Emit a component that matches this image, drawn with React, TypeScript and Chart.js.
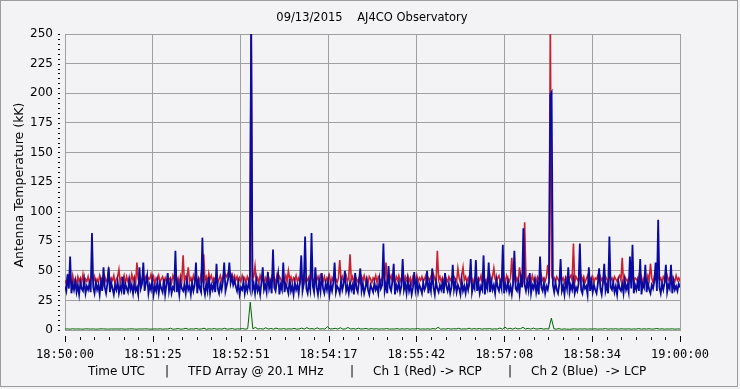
import React, { useEffect, useRef } from "react";
import { Chart, registerables } from "chart.js";

Chart.register(...registerables);

const chartTitle = "09/13/2015    AJ4CO Observatory";
const yAxisTitle = "Antenna Temperature (kK)";
const xAxisTitleParts = ["Time UTC", "|", "TFD Array @ 20.1 MHz", "|", "Ch 1 (Red) -> RCP", "|", "Ch 2 (Blue)  -> LCP"];
const xTickLabels = ["18:50:00", "18:51:25", "18:52:51", "18:54:17", "18:55:42", "18:57:08", "18:58:34", "19:00:00"];
const durationSeconds = 600;
const yMin = 0;
const yMax = 250;
const yStep = 25;

// Ch 2 (Blue) -> LCP
const ch2Blue = [
  37, 33, 47, 35, 62, 31, 39, 34, 41, 32, 38, 30, 40, 35, 33, 42, 31, 37, 34, 39,
  32, 82, 36, 31, 40, 34, 38, 30, 41, 33, 53, 36, 31, 39, 53, 32, 40, 35, 30, 38,
  34, 41, 31, 37, 33, 45, 30, 39, 35, 32, 42, 34, 38, 31, 40, 33, 36, 30, 53, 35,
  39, 57, 33, 40, 46, 31, 38, 34, 42, 30, 37, 33, 41, 31, 39, 35, 32, 43, 30, 38,
  48, 33, 40, 31, 36, 34, 67, 32, 39, 30, 41, 35, 33, 38, 31, 42, 34, 37, 30, 40,
  33, 38, 57, 31, 41, 35, 32, 78, 36, 30, 39, 33, 45, 31, 38, 34, 40, 32, 56, 35,
  31, 39, 34, 41, 57, 33, 38, 43, 57, 40, 45, 38, 42, 37, 33, 40, 30, 36, 34, 41,
  31, 38, 33, 40, 35, 260, 34, 39, 31, 42, 33, 37, 30, 40, 53, 34, 38, 32, 49, 35,
  40, 31, 68, 36, 33, 41, 48, 30, 38, 34, 57, 32, 39, 35, 31, 43, 33, 37, 30, 40,
  34, 38, 31, 41, 63, 33, 39, 79, 35, 31, 40, 34, 82, 37, 32, 53, 36, 30, 41, 33,
  48, 35, 31, 39, 34, 42, 30, 38, 33, 40, 57, 32, 37, 35, 31, 41, 34, 39, 50, 33,
  37, 31, 40, 34, 38, 30, 48, 35, 32, 41, 52, 33, 39, 31, 36, 42, 34, 30, 38, 35,
  32, 40, 34, 37, 31, 43, 35, 38, 73, 33, 39, 31, 54, 36, 33, 41, 56, 30, 38, 34,
  40, 32, 37, 60, 34, 39, 31, 42, 33, 38, 30, 36, 49, 34, 41, 32, 38, 35, 31, 40,
  34, 37, 50, 31, 39, 33, 52, 36, 30, 41, 35, 32, 38, 34, 40, 31, 48, 37, 33, 39,
  31, 36, 55, 34, 40, 32, 38, 35, 30, 42, 33, 37, 31, 39, 34, 41, 60, 32, 38, 35,
  59, 33, 40, 31, 37, 34, 63, 30, 39, 35, 57, 32, 41, 34, 38, 31, 43, 36, 33, 40,
  35, 72, 31, 38, 34, 41, 32, 37, 30, 39, 67, 35, 33, 40, 31, 44, 36, 86, 38, 33,
  41, 34, 48, 31, 38, 35, 42, 32, 39, 30, 62, 36, 33, 40, 31, 37, 34, 41, 199, 201,
  38, 32, 40, 34, 31, 39, 60, 33, 37, 30, 41, 35, 53, 32, 38, 34, 42, 31, 36, 33,
  39, 73, 34, 31, 40, 35, 37, 30, 53, 33, 41, 32, 38, 34, 31, 39, 52, 35, 30, 40,
  56, 33, 38, 31, 79, 36, 34, 40, 32, 37, 30, 41, 35, 33, 39, 31, 42, 34, 38, 32,
  62, 35, 72, 31, 38, 34, 41, 33, 60, 30, 39, 36, 55, 32, 40, 34, 31, 38, 35, 41,
  57, 33, 93, 36, 31, 39, 34, 40, 55, 32, 38, 35, 55, 31, 41, 34, 37, 33, 39, 36,
];

// Ch 1 (Red) -> RCP
const ch1Red = [
  42, 39, 45, 41, 44, 38, 46, 40, 43, 39, 45, 41, 44, 40, 47, 39, 43, 41, 45, 40,
  44, 46, 41, 45, 39, 43, 40, 46, 42, 44, 39, 45, 41, 43, 50, 40, 44, 42, 46, 39,
  43, 45, 51, 40, 44, 42, 46, 39, 45, 41, 44, 40, 47, 42, 45, 39, 57, 43, 40, 44,
  41, 46, 42, 45, 40, 44, 43, 47, 41, 45, 39, 44, 42, 46, 40, 43, 45, 41, 44, 40,
  45, 42, 44, 40, 46, 43, 45, 41, 44, 39, 46, 42, 63, 40, 45, 43, 53, 41, 44, 40,
  46, 42, 45, 40, 44, 41, 47, 43, 64, 42, 45, 40, 48, 43, 46, 41, 44, 42, 45, 40,
  43, 46, 41, 45, 44, 47, 45, 48, 46, 44, 47, 43, 46, 42, 45, 40, 44, 41, 46, 42,
  44, 40, 45, 42, 46, 262, 43, 45, 54, 41, 44, 40, 46, 42, 45, 39, 44, 41, 47, 43,
  40, 45, 42, 44, 39, 46, 41, 45, 43, 40, 44, 42, 46, 41, 50, 43, 45, 40, 44, 42,
  46, 41, 44, 40, 45, 43, 47, 41, 44, 42, 45, 40, 46, 43, 41, 44, 42, 45, 40, 46,
  43, 41, 45, 40, 44, 42, 46, 39, 44, 41, 45, 43, 40, 44, 59, 42, 45, 40, 43, 46,
  41, 44, 64, 42, 45, 40, 46, 43, 41, 44, 40, 45, 42, 46, 41, 44, 39, 45, 43, 40,
  44, 42, 46, 40, 45, 43, 41, 44, 47, 42, 57, 40, 45, 43, 46, 41, 44, 40, 45, 42,
  46, 41, 44, 43, 40, 45, 42, 46, 41, 44, 39, 45, 43, 41, 46, 40, 44, 42, 45, 41,
  43, 46, 40, 44, 42, 45, 41, 47, 43, 40, 67, 42, 45, 41, 44, 40, 46, 43, 41, 45,
  42, 44, 40, 45, 43, 41, 52, 44, 40, 46, 53, 42, 45, 41, 44, 39, 46, 43, 40, 44,
  45, 41, 44, 42, 46, 40, 45, 43, 41, 44, 42, 46, 40, 45, 52, 43, 41, 44, 46, 40,
  44, 42, 45, 40, 46, 43, 41, 44, 61, 42, 45, 40, 44, 41, 53, 43, 46, 42, 91, 44,
  41, 45, 43, 40, 46, 42, 44, 41, 45, 43, 40, 46, 42, 44, 41, 45, 55, 43, 262, 46,
  42, 44, 40, 45, 43, 41, 46, 42, 44, 40, 45, 43, 41, 44, 46, 42, 73, 40, 45, 43,
  41, 44, 46, 42, 45, 40, 43, 46, 41, 44, 42, 45, 40, 44, 43, 46, 41, 45, 42, 44,
  40, 45, 43, 41, 46, 42, 44, 40, 45, 43, 41, 44, 46, 42, 61, 40, 45, 43, 41, 44,
  46, 42, 45, 40, 44, 43, 41, 46, 42, 45, 40, 44, 43, 41, 46, 42, 56, 44, 40, 45,
  43, 41, 46, 42, 44, 40, 45, 43, 41, 46, 42, 44, 40, 45, 43, 41, 46, 42, 44, 41,
];

// Third trace (Green), near zero
const ch3Green = [
  0.8, 0.9, 0.7, 1.0, 0.8, 0.9, 0.8, 0.7, 1.0, 0.9, 0.8, 0.9, 0.7, 0.8, 1.0, 0.9, 0.8, 0.7, 0.9, 0.8,
  0.9, 0.8, 1.0, 0.7, 0.8, 0.9, 1.0, 0.8, 0.7, 0.9, 0.8, 1.0, 0.9, 0.7, 0.8, 0.9, 0.8, 1.0, 0.7, 0.9,
  0.8, 1.5, 0.6, 0.9, 1.2, 0.7, 0.9, 1.4, 0.6, 1.0, 0.8, 1.3, 0.7, 0.9, 1.5, 0.6, 1.0, 0.8, 1.2, 0.7,
  1.0, 0.8, 1.4, 0.7, 0.9, 1.2, 0.6, 1.0, 0.8, 1.3, 0.7, 1.1, 23.5, 1.0, 2.2, 0.8, 1.2, 0.7, 1.9, 0.8,
  1.3, 0.7, 1.6, 0.9, 0.8, 1.2, 0.7, 1.0, 0.8, 1.4, 0.7, 0.9, 1.6, 0.8, 2.0, 0.9, 1.2, 0.7, 1.8, 0.8,
  1.1, 0.7, 2.8, 0.9, 1.0, 1.4, 0.8, 1.9, 0.7, 1.0, 2.1, 0.8, 1.2, 0.7, 1.5, 0.8, 1.0, 1.3, 0.7, 1.2,
  0.8, 1.1, 0.7, 1.0, 0.8, 1.3, 0.7, 0.9, 0.8, 1.2, 0.7, 1.0, 0.8, 1.1, 0.7, 1.0, 0.8, 1.3, 0.7, 0.9,
  0.8, 1.0, 0.7, 1.2, 0.8, 2.3, 0.7, 1.0, 0.8, 1.3, 0.7, 1.1, 0.9, 1.4, 0.7, 1.0, 0.8, 1.5, 0.7, 1.2,
  0.8, 1.3, 0.7, 1.1, 0.9, 1.2, 0.7, 1.0, 0.8, 1.6, 0.7, 2.4, 0.8, 1.5, 0.7, 1.7, 0.9, 1.2, 2.2, 0.8,
  1.4, 0.7, 1.6, 0.8, 1.0, 1.3, 0.7, 1.1, 0.8, 10.0, 1.0, 0.7, 1.2, 0.6, 0.9, 0.7, 0.6, 0.8, 1.0, 0.7,
  0.9, 0.8, 1.0, 0.7, 0.9, 0.8, 1.0, 0.7, 0.9, 0.8, 1.2, 0.7, 1.0, 0.8, 1.1, 0.7, 1.0, 0.9, 0.8, 1.0,
  0.7, 0.9, 0.8, 1.2, 0.7, 1.0, 0.8, 1.1, 0.7, 0.9, 1.3, 0.8, 1.0, 0.7, 0.9, 0.8, 1.0, 0.7, 0.9, 0.8,
];

const SANS = '"DejaVu Sans", Verdana, sans-serif';
const MONO = '"DejaVu Sans Mono", monospace';
const BG = "#f3f3f5";
const GRID = "#a0a0a0";

function toPoints(values: number[]) {
  const n = values.length;
  return values.map((v, i) => ({ x: (i * durationSeconds) / (n - 1), y: v }));
}

const decorPlugin = {
  id: "decor",
  beforeDraw(chart: any) {
    const { ctx, width, height } = chart;
    ctx.save();
    ctx.fillStyle = BG;
    ctx.fillRect(0, 0, width, height);
    ctx.strokeStyle = "#9c9c9c";
    ctx.lineWidth = 1;
    ctx.strokeRect(0.5, 0.5, width - 3, height - 3);
    ctx.restore();
  },
  afterDraw(chart: any) {
    const { ctx, chartArea } = chart;
    const xs = chart.scales.x;
    const ys = chart.scales.y;
    ctx.save();
    ctx.fillStyle = "#000";
    // y minor/major tick dashes
    const ySub = 6;
    for (let k = 0; k <= ((yMax - yMin) / yStep) * ySub; k++) {
      const v = yMin + (k * yStep) / ySub;
      const py = Math.round(ys.getPixelForValue(v));
      ctx.fillRect(58, py, 2, 1);
    }
    // x minor/major ticks
    const xSub = 6;
    const nMaj = xTickLabels.length - 1;
    for (let k = 0; k <= nMaj * xSub; k++) {
      const v = (k * durationSeconds) / (nMaj * xSub);
      const px = Math.round(xs.getPixelForValue(v));
      const isMajor = k % xSub === 0;
      ctx.fillRect(px, isMajor ? chartArea.bottom + 6 : chartArea.bottom + 7, 1, isMajor ? 6 : 3);
    }
    ctx.textBaseline = "middle";
    ctx.textAlign = "center";
    ctx.font = `11.5px ${SANS}`;
    ctx.fillText(chartTitle, 372, 18);
    // x-axis title, pieces laid out left to right
    ctx.font = `12px ${SANS}`;
    const starts = [88, 167, 188, 352, 373, 510, 531];
    xAxisTitleParts.forEach((t, i) => {
      ctx.textAlign = t === "|" ? "center" : "left";
      ctx.fillText(t, starts[i], 372);
    });
    ctx.textAlign = "center";
    ctx.font = `12.5px ${SANS}`;
    ctx.translate(20, 185);
    ctx.rotate(-Math.PI / 2);
    ctx.fillText(yAxisTitle, 0, 0);
    ctx.restore();
  },
};

export default function App() {
  const ref = useRef<HTMLCanvasElement | null>(null);
  useEffect(() => {
    document.body.style.margin = "0";
    const canvas = ref.current;
    if (!canvas) return;
    const chart = new Chart(canvas, {
      type: "line",
      data: {
        datasets: [
          { label: "Ch 2 (Blue) -> LCP", data: toPoints(ch2Blue), borderColor: "#0a0aa0", borderWidth: 1.8, pointRadius: 0, tension: 0 },
          { label: "Ch 1 (Red) -> RCP", data: toPoints(ch1Red), borderColor: "#c8202e", borderWidth: 1.6, pointRadius: 0, tension: 0 },
          { label: "Ch 3", data: toPoints(ch3Green), borderColor: "#006400", borderWidth: 1, pointRadius: 0, tension: 0 },
        ],
      },
      options: {
        animation: false,
        responsive: false,
        devicePixelRatio: 1,
        layout: { padding: { top: 34, right: 60, left: 0, bottom: 0 } },
        plugins: { legend: { display: false }, title: { display: false }, tooltip: { enabled: false } },
        scales: {
          x: {
            type: "linear",
            min: 0,
            max: durationSeconds,
            afterBuildTicks: (scale: any) => {
              const n = xTickLabels.length - 1;
              scale.ticks = xTickLabels.map((_, i) => ({ value: (i * durationSeconds) / n }));
            },
            afterFit: (scale: any) => {
              scale.height = 59;
            },
            ticks: {
              autoSkip: false,
              maxRotation: 0,
              padding: 18,
              color: "#000",
              font: { family: MONO, size: 12 },
              callback: (_v: any, i: number) => xTickLabels[i],
            },
            grid: { color: GRID, lineWidth: 1, drawTicks: false },
            border: { display: true, color: GRID },
          },
          y: {
            type: "linear",
            min: yMin,
            max: yMax,
            afterFit: (scale: any) => {
              scale.width = 65;
            },
            ticks: {
              stepSize: yStep,
              padding: 12,
              color: "#000",
              font: { family: SANS, size: 12 },
            },
            grid: { color: GRID, lineWidth: 1, drawTicks: false },
            border: { display: true, color: GRID },
          },
        },
      },
      plugins: [decorPlugin],
    } as any);
    return () => chart.destroy();
  }, []);
  return <canvas ref={ref} width={740} height={389} style={{ display: "block" }} />;
}
